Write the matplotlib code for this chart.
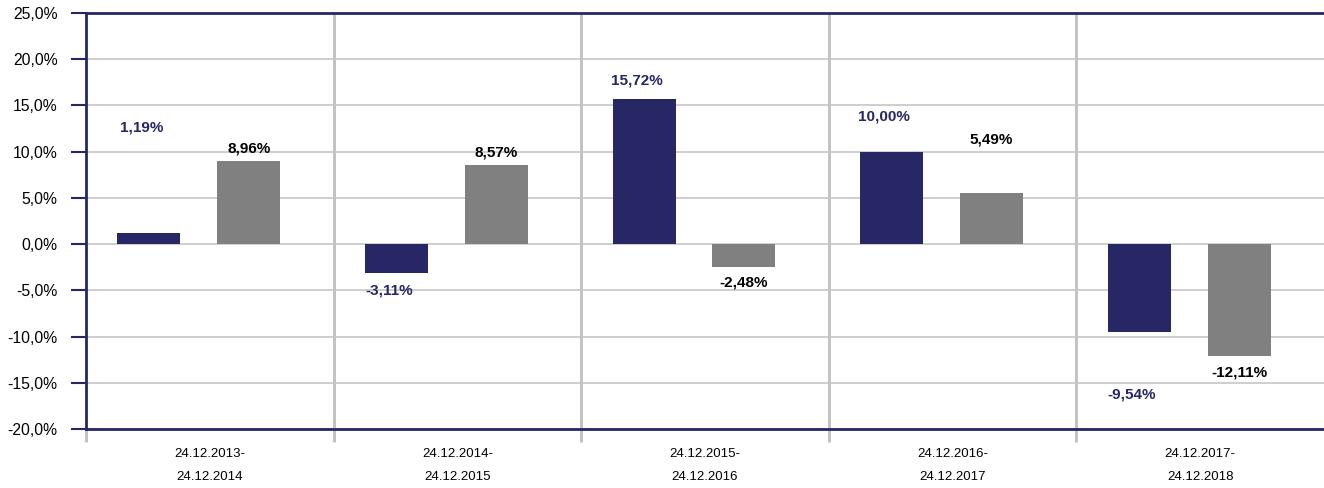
import matplotlib
matplotlib.use("Agg")
import matplotlib.pyplot as plt
import numpy as np

categories = ["24.12.2013-\n24.12.2014", "24.12.2014-\n24.12.2015", "24.12.2015-\n24.12.2016",
              "24.12.2016-\n24.12.2017", "24.12.2017-\n24.12.2018"]
fund = [1.19, -3.11, 15.72, 10.00, -9.54]
benchmark = [8.96, 8.57, -2.48, 5.49, -12.11]
fund_labels = ["1,19%", "-3,11%", "15,72%", "10,00%", "-9,54%"]
bench_labels = ["8,96%", "8,57%", "-2,48%", "5,49%", "-12,11%"]
# label anchor heights (data units) as placed in the reference
fund_label_y = [12.66, -4.98, 17.75, 13.85, -16.23]
bench_label_y = [10.39, 9.96, -4.11, 11.36, -13.85]
yticks = [-20, -15, -10, -5, 0, 5, 10, 15, 20, 25]

NAVY = "#262764"
GRAY = "#808080"
GRID = "#c6c6c6"
SEP = "#bfbfbf"

plt.rcParams['font.family'] = ['Liberation Sans', 'DejaVu Sans']

fig = plt.figure(figsize=(13.24, 4.88), dpi=100)
ax = fig.add_axes([86/1324, 59/488, 1 - 86/1324, (429-13)/488])

x = np.arange(len(categories))
w = 0.254
off_f = -0.246
off_b = 0.157
ax.bar(x + off_f, fund, width=w, color=NAVY, zorder=3)
ax.bar(x + off_b, benchmark, width=w, color=GRAY, zorder=3)

for i in range(len(categories)):
    ax.text(x[i] + off_f - 0.03, fund_label_y[i], fund_labels[i], ha='center', va='center',
            fontsize=11, fontweight='bold', color=NAVY, zorder=4)
    ax.text(x[i] + off_b, bench_label_y[i], bench_labels[i], ha='center', va='center',
            fontsize=11, fontweight='bold', color='black', zorder=4)

ax.set_xlim(-0.5, len(categories) - 0.5)
ax.set_ylim(-20, 25)
ax.set_yticks(yticks)
ax.set_yticklabels([f"{v:.1f}".replace('.', ',') + "%" for v in yticks], fontsize=11.3)
ax.yaxis.grid(True, color=GRID, linewidth=1.2, zorder=0)

bounds = np.arange(-0.5, len(categories) - 0.5, 1.0)
ax.set_xticks(bounds, minor=True)
ax.set_xticks(x)
ax.set_xticklabels(categories, fontsize=9.5, linespacing=2.2)
ax.tick_params(axis='x', which='major', length=0, pad=14)
ax.tick_params(axis='x', which='minor', length=9, width=2, color=SEP, direction='out')
ax.tick_params(axis='y', length=10.5, width=1.5, color=NAVY, pad=10)
for b in bounds[1:]:
    ax.axvline(b, color=SEP, linewidth=2, zorder=1)

for s in ['left', 'top', 'bottom']:
    ax.spines[s].set_color(NAVY)
    ax.spines[s].set_linewidth(2)
    ax.spines[s].set_zorder(5)
ax.spines['right'].set_visible(False)

fig.savefig("out.png", dpi=100)
